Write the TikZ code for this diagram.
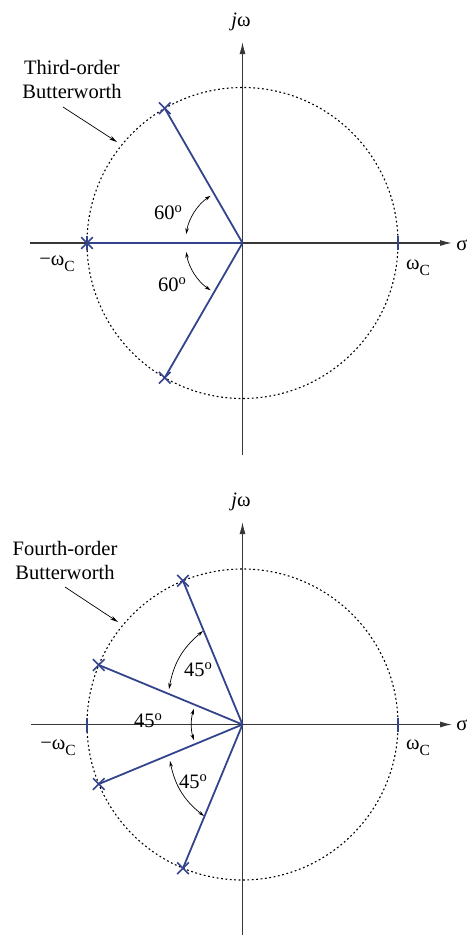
\documentclass[tikz,border=0pt]{standalone}
\usepackage{fontspec}
\setmainfont{Liberation Serif}
\usetikzlibrary{arrows.meta,shapes.misc}
\definecolor{poleblue}{RGB}{52,68,140}
\definecolor{axisgray}{RGB}{55,55,55}
\begin{document}
\begin{tikzpicture}[x=1pt,y=-1pt,
  axis/.style={draw=axisgray,line width=1.2pt,-{Latex[length=12pt,width=6pt]}},
  ray/.style={draw=poleblue,line width=1.8pt},
  ticker/.style={draw=poleblue,line width=2pt},
  circ/.style={draw=black,line width=1.1pt,dash pattern=on 1.8pt off 2.6pt},
  angarr/.style={draw=black,line width=0.7pt,{Stealth[length=6pt,width=3.5pt]}-{Stealth[length=6pt,width=3.5pt]}},
  callout/.style={draw=black,line width=0.7pt,-{Stealth[length=8pt,width=4pt]}},
  pole/.style={cross out,draw=poleblue,line width=1.6pt,minimum size=10pt,inner sep=0pt},
  lbl/.style={font=\fontsize{20.5}{24}\selectfont,inner sep=0pt},
]
\useasboundingbox (0,0) rectangle (472,935);
\newcommand{\wc}{ω\raisebox{-0.3em}{\fontsize{15.5}{15.5}\selectfont C}}
\newcommand{\dg}{\raisebox{0.34em}{\fontsize{14.5}{14.5}\selectfont o}}

% ---------- Third-order ----------
\coordinate (O1) at (242.5,243);
\draw[circ] (O1) circle (155.5);
\coordinate (xl1) at (30,243);
\coordinate (xr1) at (452,243);
\coordinate (yb1) at (242.5,455);
\coordinate (yt1) at (242.5,42);
\draw[axis] (xl1) -- (xr1);
\draw[axis] (yb1) -- (yt1);
\path (O1) ++(120:155.5) node[pole] (p1a) {};
\path (O1) ++(180:155.5) node[pole] (p1b) {};
\path (O1) ++(240:155.5) node[pole] (p1c) {};
\draw[ray] (O1) -- (p1a.center);
\draw[ray] (O1) -- (p1b.center);
\draw[ray] (O1) -- (p1c.center);
\coordinate (t1r) at (398,243);
\draw[ticker] ([yshift=7pt]t1r) -- ([yshift=-7pt]t1r);
\draw[ticker] ([yshift=7pt]p1b.center) -- ([yshift=-7pt]p1b.center);
\draw[angarr] (O1) ++(171:57) arc[start angle=171,end angle=124,radius=57];
\draw[angarr] (O1) ++(189:57) arc[start angle=189,end angle=236,radius=57];
\node[lbl] (a1) at (168,213) {60\dg};
\node[lbl] (a2) at (172,285) {60\dg};
\node[lbl] (jw1) at (241,22) {\textit{j}ω};
\node[lbl] (s1) at (462,245) {σ};
\node[lbl] (wc1) at (418,268) {\wc};
\node[lbl] (mwc1) at (57,264) {−\wc};
\node[lbl,align=center] (t1) at (72,79) {Third-order\\Butterworth};
\coordinate (c1s) at (63,107);
\coordinate (c1e) at (117,142);
\draw[callout] (c1s) -- (c1e);

% ---------- Fourth-order ----------
\coordinate (O2) at (242.5,724.5);
\draw[circ] (O2) circle (155.5);
\coordinate (xl2) at (31,724.5);
\coordinate (xr2) at (452,724.5);
\coordinate (yb2) at (242.5,936);
\coordinate (yt2) at (242.5,522);
\draw[axis] (xl2) -- (xr2);
\draw[axis] (yb2) -- (yt2);
\path (O2) ++(112.5:155.5) node[pole] (p2a) {};
\path (O2) ++(157.5:155.5) node[pole] (p2b) {};
\path (O2) ++(202.5:155.5) node[pole] (p2c) {};
\path (O2) ++(247.5:155.5) node[pole] (p2d) {};
\draw[ray] (O2) -- (p2a.center);
\draw[ray] (O2) -- (p2b.center);
\draw[ray] (O2) -- (p2c.center);
\draw[ray] (O2) -- (p2d.center);
\coordinate (t2r) at (398,724.5);
\coordinate (t2l) at (87,724.5);
\draw[ticker] ([yshift=7pt]t2r) -- ([yshift=-7pt]t2r);
\draw[ticker] ([yshift=7pt]t2l) -- ([yshift=-7pt]t2l);
\coordinate (b1s) at (203,631);
\coordinate (b1e) at (169,689);
\draw[angarr] (b1s) to[bend right=20] (b1e);
\draw[angarr] (O2) ++(162:51) arc[start angle=162,end angle=198,radius=51];
\coordinate (b3s) at (170,761);
\coordinate (b3e) at (204,816);
\draw[angarr] (b3s) to[bend right=20] (b3e);
\node[lbl] (a3) at (198,670) {45\dg};
\node[lbl] (a4) at (148,721) {45\dg};
\node[lbl] (a5) at (193,782) {45\dg};
\node[lbl] (jw2) at (241,502) {\textit{j}ω};
\node[lbl] (s2) at (462,725) {σ};
\node[lbl] (wc2) at (418,748) {\wc};
\node[lbl] (mwc2) at (58,748) {−\wc};
\node[lbl,align=center] (t2) at (65,560) {Fourth-order\\Butterworth};
\coordinate (c2s) at (65,587);
\coordinate (c2e) at (118,622);
\draw[callout] (c2s) -- (c2e);
\end{tikzpicture}
\end{document}
